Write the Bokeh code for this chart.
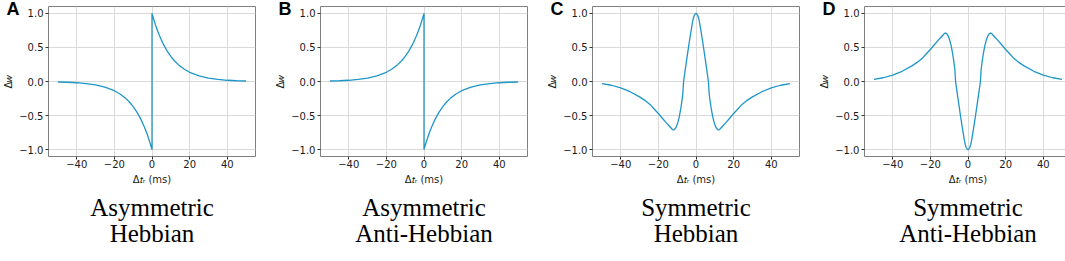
from bokeh.plotting import figure
from bokeh.models import Range1d, FixedTicker, LinearAxis, Title
from bokeh.layouts import row
from bokeh.embed import file_html
from bokeh.resources import INLINE

# ---------------- data ----------------
t_asym = [-50, -45, -40, -35, -30, -25, -20, -17, -14, -12, -10, -8, -6, -5, -4, -3, -2, -1, 0,
          0, 1, 2, 3, 4, 5, 6, 8, 10, 12, 14, 17, 20, 25, 30, 35, 40, 45, 50]
w_asym_hebbian = [-0.007, -0.011, -0.018, -0.030, -0.050, -0.082, -0.135, -0.183, -0.247, -0.301,
                  -0.368, -0.449, -0.549, -0.607, -0.670, -0.741, -0.819, -0.905, -1.0,
                  1.0, 0.905, 0.819, 0.741, 0.670, 0.607, 0.549, 0.449, 0.368, 0.301, 0.247,
                  0.183, 0.135, 0.082, 0.050, 0.030, 0.018, 0.011, 0.007]
w_asym_anti = [0.007, 0.011, 0.018, 0.030, 0.050, 0.082, 0.135, 0.183, 0.247, 0.301,
               0.368, 0.449, 0.549, 0.607, 0.670, 0.741, 0.819, 0.905, 1.0,
               -1.0, -0.905, -0.819, -0.741, -0.670, -0.607, -0.549, -0.449, -0.368, -0.301, -0.247,
               -0.183, -0.135, -0.082, -0.050, -0.030, -0.018, -0.011, -0.007]

t_sym = [-50, -45, -40, -35, -30, -27, -24, -22, -20, -18, -16, -14, -13, -12.5, -12, -11.5,
         -11, -10.5, -10, -9.5, -9, -8.5, -8, -7.5, -7, -6.6, -6, -5, -4, -3, -2, -1.5, -1,
         -0.5, 0,
         0.5, 1, 1.5, 2, 3, 4, 5, 6, 6.6, 7, 7.5, 8, 8.5, 9, 9.5, 10, 10.5, 11, 11.5, 12,
         12.5, 13, 14, 16, 18, 20, 22, 24, 27, 30, 35, 40, 45, 50]
w_sym_hebbian = [-0.03, -0.055, -0.095, -0.15, -0.225, -0.28, -0.35, -0.41, -0.47, -0.535,
                 -0.60, -0.66, -0.69, -0.705, -0.71, -0.705, -0.69, -0.665, -0.63, -0.585,
                 -0.53, -0.46, -0.38, -0.29, -0.18, 0.0, 0.12, 0.31, 0.50, 0.68, 0.85, 0.92,
                 0.965, 0.99, 1.0,
                 0.99, 0.965, 0.92, 0.85, 0.68, 0.50, 0.31, 0.12, 0.0, -0.18, -0.29, -0.38,
                 -0.46, -0.53, -0.585, -0.63, -0.665, -0.69, -0.705, -0.71, -0.705, -0.69,
                 -0.66, -0.60, -0.535, -0.47, -0.41, -0.35, -0.28, -0.225, -0.15, -0.095,
                 -0.055, -0.03]
w_sym_anti = [0.03, 0.055, 0.095, 0.15, 0.225, 0.28, 0.35, 0.41, 0.47, 0.535,
              0.60, 0.66, 0.69, 0.705, 0.71, 0.705, 0.69, 0.665, 0.63, 0.585,
              0.53, 0.46, 0.38, 0.29, 0.18, 0.0, -0.12, -0.31, -0.50, -0.68, -0.85, -0.92,
              -0.965, -0.99, -1.0,
              -0.99, -0.965, -0.92, -0.85, -0.68, -0.50, -0.31, -0.12, 0.0, 0.18, 0.29, 0.38,
              0.46, 0.53, 0.585, 0.63, 0.665, 0.69, 0.705, 0.71, 0.705, 0.69,
              0.66, 0.60, 0.535, 0.47, 0.41, 0.35, 0.28, 0.225, 0.15, 0.095,
              0.055, 0.03]

panel_letters = ["A", "B", "C", "D"]
caption_line1 = ["Asymmetric", "Asymmetric", "Symmetric", "Symmetric"]
caption_line2 = ["Hebbian", "Anti-Hebbian", "Hebbian", "Anti-Hebbian"]
x_ticks = [-40, -20, 0, 20, 40]
x_tick_labels = ["\u221240", "\u221220", "0", "20", "40"]
y_ticks = [-1.0, -0.5, 0.0, 0.5, 1.0]
y_tick_labels = ["\u22121.0", "\u22120.5", "0.0", "0.5", "1.0"]
x_label = "\u0394\U0001D461\u1D63 (ms)"
y_label = "\u0394\U0001D464"

# ---------------- layout / style ----------------
FW, FH = 207, 150
BL, BT, H = 42, 6, 245
XR = (-55.0, 55.0)
YR = (-1.1, 1.1)
LINE = "#1f96c8"
SANS = "DejaVu Sans"
SERIF = "Liberation Serif"

series = [(t_asym, w_asym_hebbian), (t_asym, w_asym_anti),
          (t_sym, w_sym_hebbian), (t_sym, w_sym_anti)]


def caption_axis(text, standoff):
    ax = LinearAxis(ticker=FixedTicker(ticks=[]), axis_label=text)
    ax.axis_line_color = None
    ax.major_tick_line_color = None
    ax.minor_tick_line_color = None
    ax.major_tick_out = 0
    ax.major_tick_in = 0
    ax.minor_tick_out = 0
    ax.minor_tick_in = 0
    ax.major_label_standoff = 0
    ax.axis_label_standoff = standoff
    ax.axis_label_text_font = SERIF
    ax.axis_label_text_font_size = "25px"
    ax.axis_label_text_font_style = "normal"
    ax.axis_label_text_color = "black"
    return ax


figs = []
for i, (t, w) in enumerate(series):
    letter = Title(text=panel_letters[i], align="left", offset=-42,
                   vertical_align="bottom", standoff=-24,
                   text_font="Liberation Sans", text_font_style="bold",
                   text_font_size="18px", text_color="black")
    p = figure(frame_width=FW, frame_height=FH, title=letter,
               min_border_left=BL, min_border_right=(17 if i < 3 else 2),
               min_border_top=BT, min_border_bottom=H - BT - FH,
               x_range=Range1d(*XR), y_range=Range1d(*YR),
               output_backend="svg", toolbar_location=None)
    p.outline_line_color = "#808080"
    p.outline_line_width = 1
    p.grid.grid_line_color = "#dadada"
    p.grid.grid_line_width = 1

    p.xaxis.ticker = FixedTicker(ticks=x_ticks)
    p.yaxis.ticker = FixedTicker(ticks=y_ticks)
    p.xaxis.major_label_overrides = dict(zip(x_ticks, x_tick_labels))
    p.yaxis.major_label_overrides = dict(zip(y_ticks, y_tick_labels))
    for ax in (p.xaxis, p.yaxis):
        ax.axis_line_color = None
        ax.major_tick_line_color = "#333333"
        ax.major_tick_in = 0
        ax.major_tick_out = 3
        ax.minor_tick_line_color = None
        ax.major_label_text_font = SANS
        ax.major_label_text_font_size = "10px"
        ax.major_label_text_color = "#1a1a1a"
        ax.axis_label_text_font = SANS
        ax.axis_label_text_font_size = "10px"
        ax.axis_label_text_font_style = "normal"
        ax.axis_label_text_color = "#1a1a1a"
    p.xaxis.major_label_standoff = 0
    p.yaxis.major_label_standoff = 2
    p.xaxis.axis_label = x_label
    p.yaxis.axis_label = y_label
    p.xaxis.axis_label_standoff = 3
    p.yaxis.axis_label_standoff = 2

    p.line(t, w, line_color=LINE, line_width=1.3)

    # two-line caption under the panel
    p.add_layout(caption_axis(caption_line1[i], 6), "below")
    p.add_layout(caption_axis(caption_line2[i], -4), "below")
    figs.append(p)

layout = row(*figs, spacing=0)
open("out.html", "w").write(file_html(layout, INLINE))
